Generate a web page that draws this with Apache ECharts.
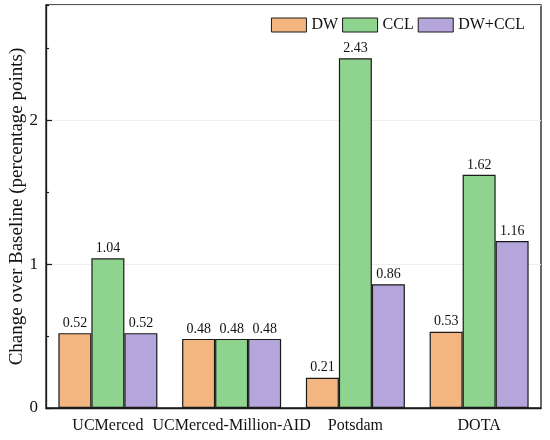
<!DOCTYPE html>
<html>
<head>
<meta charset="UTF-8">
<script src="https://cdn.jsdelivr.net/npm/echarts@6/dist/echarts.min.js"></script>
<style>
    html, body { margin: 0; padding: 0; background: #fff; }
    #chart { width: 550px; height: 440px; }
</style>
</head>
<body>
<div id="chart"></div>
<script type="text/javascript">
    const categories = ['UCMerced', 'UCMerced-Million-AID', 'Potsdam', 'DOTA'];
    const seriesNames = ['DW', 'CCL', 'DW+CCL'];
    const dwValues = [0.52, 0.48, 0.21, 0.53];
    const cclValues = [1.04, 0.48, 2.43, 1.62];
    const dwCclValues = [0.52, 0.48, 0.86, 1.16];
    const colors = ['#F4B680', '#8ED38E', '#B4A5DB'];

    const font = 'Liberation Serif';
    const chart = echarts.init(document.getElementById('chart'));

    function makeBar(name, values, color) {
        return {
            name: name,
            type: 'bar',
            xAxisIndex: 0,
            yAxisIndex: 0,
            barWidth: 33,
            barGap: '0%',
            data: values,
            itemStyle: { color: color, borderColor: '#1a1a1a', borderWidth: 1.2 },
            label: {
                show: true,
                position: 'top',
                distance: 3,
                color: '#111',
                fontFamily: font,
                fontSize: 14,
                formatter: function (p) { return p.value.toFixed(2); }
            }
        };
    }

    chart.setOption({
        animation: false,
        textStyle: { fontFamily: font },
        grid: {
            left: 46, right: 9, top: 5, bottom: 32,
            show: true, borderColor: '#1a1a1a', borderWidth: 1.3,
            containLabel: false,
            outerBoundsMode: 'none'
        },
        legend: {
            top: 12,
            right: 20,
            itemWidth: 35,
            itemHeight: 14,
            itemGap: 4,
            icon: 'rect',
            data: seriesNames,
            itemStyle: { borderColor: '#1a1a1a', borderWidth: 1 },
            textStyle: { fontFamily: font, fontSize: 16, color: '#111' }
        },
        xAxis: [
            {
                type: 'category',
                position: 'bottom',
                data: categories,
                axisLine: { lineStyle: { color: '#1a1a1a', width: 1.3 } },
                axisTick: { alignWithLabel: true, length: 6, lineStyle: { color: '#1a1a1a', width: 1.2 } },
                axisLabel: { interval: 0, fontFamily: font, fontSize: 16, color: '#111', margin: 10 }
            },
            {
                type: 'category',
                position: 'bottom',
                data: categories,
                axisLine: { show: false },
                axisTick: { length: 5, lineStyle: { color: '#1a1a1a', width: 1.2 } },
                axisLabel: { show: false }
            }
        ],
        yAxis: [
            {
                type: 'value',
                position: 'left',
                min: 0,
                max: 2.8,
                interval: 1,
                name: 'Change over Baseline (percentage points)',
                nameLocation: 'middle',
                nameGap: 19,
                nameMoveOverlap: false,
                nameTextStyle: { fontFamily: font, fontSize: 19, color: '#111' },
                axisLine: { show: true, lineStyle: { color: '#1a1a1a', width: 1.3 } },
                axisTick: { show: true, inside: true, length: 6, lineStyle: { color: '#1a1a1a', width: 1.2 } },
                axisLabel: { fontFamily: font, fontSize: 17, color: '#111', margin: 8, showMaxLabel: false },
                splitLine: { show: true, lineStyle: { color: '#eeeeee', width: 1 } }
            },
            {
                type: 'value',
                position: 'left',
                min: 0,
                max: 2.8,
                interval: 0.5,
                axisLine: { show: false },
                axisTick: { show: true, inside: true, length: 3, lineStyle: { color: '#1a1a1a', width: 1.2 } },
                axisLabel: { show: false },
                splitLine: { show: false }
            }
        ],
        series: [
            makeBar(seriesNames[0], dwValues, colors[0]),
            makeBar(seriesNames[1], cclValues, colors[1]),
            makeBar(seriesNames[2], dwCclValues, colors[2])
        ]
    });
</script>
</body>
</html>
